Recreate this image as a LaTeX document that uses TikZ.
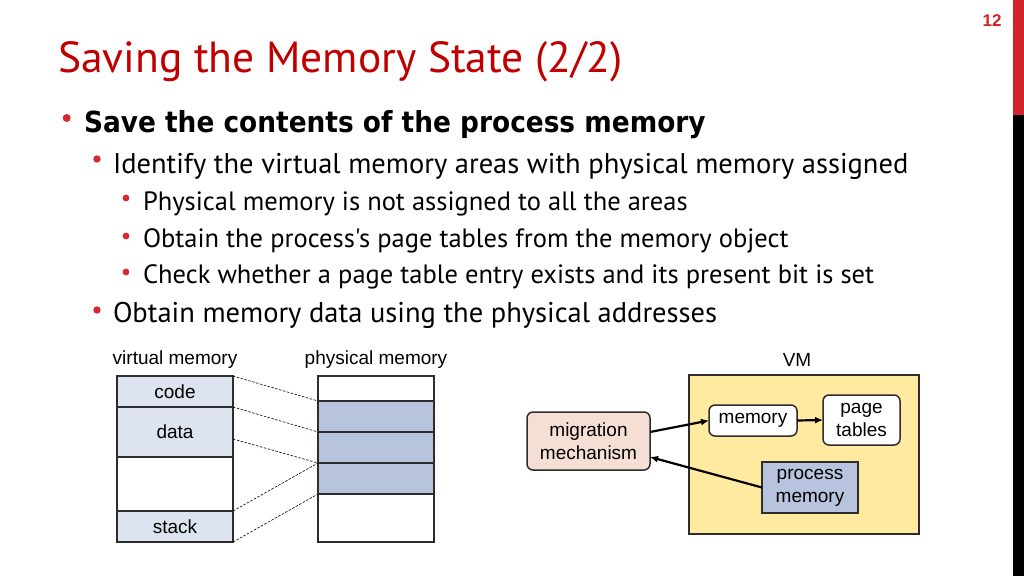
\documentclass[tikz,border=0pt]{standalone}
\usepackage{fontspec}
\setmainfont{Liberation Sans}
\newfontfamily\slidefont{PT Sans}
\newfontfamily\headfont[FakeStretch=0.91]{DejaVu Sans}
\usetikzlibrary{positioning,arrows.meta}
\definecolor{titlered}{RGB}{192,0,0}
\definecolor{barred}{RGB}{210,35,42}
\definecolor{dotred}{RGB}{214,40,50}
\definecolor{boxline}{RGB}{45,45,45}
\definecolor{vfill}{RGB}{221,227,239}
\definecolor{pfill}{RGB}{184,196,222}
\definecolor{vmfill}{RGB}{255,234,160}
\definecolor{migfill}{RGB}{245,222,212}

\begin{document}
\begin{tikzpicture}[x=1pt,y=-1pt,
 every node/.style={inner sep=0,outer sep=0},
 lvone/.style={anchor=base west,font=\headfont\bfseries\fontsize{29}{34}\selectfont},
 lvtwo/.style={anchor=base west,font=\slidefont\fontsize{28.5}{33}\selectfont},
 lvthree/.style={anchor=base west,font=\slidefont\fontsize{26.5}{31}\selectfont},
 cell/.style={draw=boxline,line width=1.5pt,minimum width=116pt,font=\fontsize{19}{22}\selectfont},
 vrow/.style={cell,fill=vfill},
 prow/.style={cell,fill=pfill},
 erow/.style={cell,fill=white},
 box/.style={draw=boxline,line width=1.5pt,align=center,font=\fontsize{19}{23}\selectfont},
 rbox/.style={box,rounded corners=6pt},
 link/.style={-{Latex[length=8pt,width=7pt]},line width=2.2pt},
 map/.style={line width=0.6pt,dash pattern=on 2.5pt off 1.5pt}]
\useasboundingbox (0,0) rectangle (1024,576);
\fill[barred] (1013,0) rectangle (1024,115);
\fill[black] (1013,115) rectangle (1024,576);
\node[font=\bfseries\fontsize{17}{20}\selectfont,text=barred] (pageno) at (992,21) {12};

\node[anchor=base west,font=\slidefont\fontsize{43.5}{48}\selectfont,text=titlered] (title) at (58,72) {Saving the Memory State (2/2)};

\fill[dotred] (66.7,118) circle (4);
\node[lvone] (b1) at (84,132) {Save the contents of the process memory};
\fill[dotred] (97,159) circle (3.7);
\node[lvtwo] (b2) at (113,173) {Identify the virtual memory areas with physical memory assigned};
\fill[dotred] (126,198) circle (3.4);
\node[lvthree] (b3) at (143,210) {Physical memory is not assigned to all the areas};
\fill[dotred] (126,236) circle (3.4);
\node[lvthree] (b4) at (143,247) {Obtain the process's page tables from the memory object};
\fill[dotred] (126,272) circle (3.4);
\node[lvthree] (b5) at (143,283) {Check whether a page table entry exists and its present bit is set};
\fill[dotred] (97,310) circle (3.7);
\node[lvtwo] (b6) at (113,322) {Obtain memory data using the physical addresses};

\node[font=\fontsize{19}{22}\selectfont] (vlabel) at (175,360) {virtual memory};
\node[font=\fontsize{19}{22}\selectfont] (plabel) at (376,360) {physical memory};

\node[vrow,anchor=north west,minimum height=31pt] (vcode) at (117,376) {code};
\node[vrow,minimum height=50pt,below=0pt of vcode] (vdata) {data};
\node[erow,minimum height=54pt,below=0pt of vdata] (vfree) {};
\node[vrow,minimum height=31pt,below=0pt of vfree] (vstack) {stack};

\node[erow,anchor=north west,minimum height=25pt] (p0) at (318,376) {};
\node[prow,minimum height=31pt,below=0pt of p0] (p1) {};
\node[prow,minimum height=31pt,below=0pt of p1] (p2) {};
\node[prow,minimum height=31pt,below=0pt of p2] (p3) {};
\node[erow,minimum height=48pt,below=0pt of p3] (p4) {};

\draw[map] (vcode.north east) -- (p0.south west);
\draw[map] (vcode.south east) -- (p1.south west);
\draw[map] ([yshift=-7pt]vdata.east) -- (p2.south west);
\draw[map] (vfree.south east) -- (p2.south west);
\draw[map] (vstack.south east) -- (p3.south west);

\node[font=\fontsize{19}{22}\selectfont] (vmlabel) at (797,360) {VM};
\node[box,fill=vmfill,anchor=north west,minimum width=230pt,minimum height=159pt] (vm) at (689,375) {};
\node[rbox,fill=white,minimum width=88pt,minimum height=31pt] (mem) at (753,420.5) {memory};
\node[rbox,fill=white,minimum width=77pt,minimum height=50pt] (ptab) at (861.5,420) {page\\tables};
\node[box,fill=pfill,minimum width=96pt,minimum height=51pt] (pmem) at (810,487.5) {process\\memory};
\node[rbox,fill=migfill,minimum width=123pt,minimum height=58pt] (mig) at (588.5,441) {migration\\mechanism};

\draw[link] ([yshift=9pt]mig.east) -- (mem.west);
\draw[link] (mem.east) -- (ptab.west);
\draw[link] (pmem.west) -- ([yshift=-16pt]mig.east);
\end{tikzpicture}
\end{document}
